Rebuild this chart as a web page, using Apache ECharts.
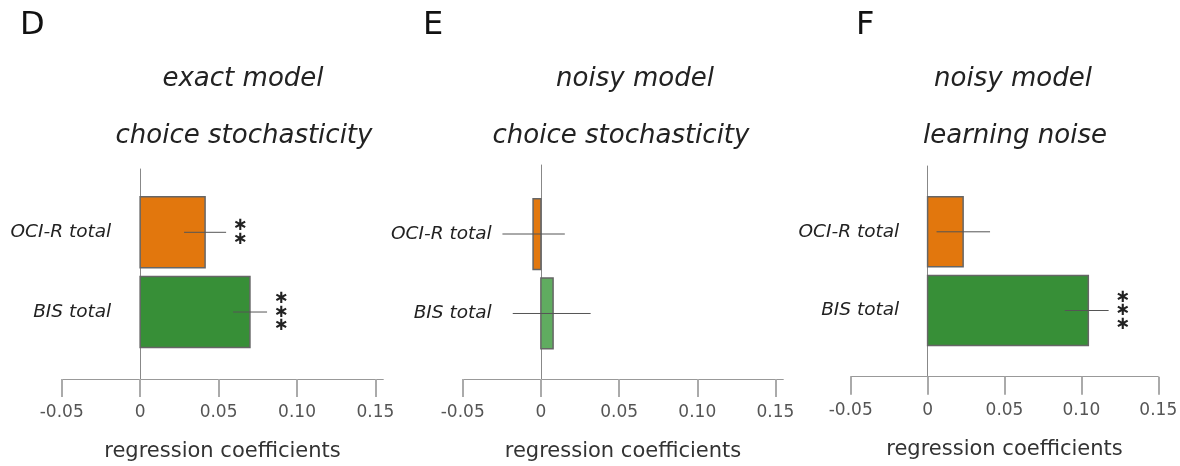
<!DOCTYPE html>
<html>
<head>
<meta charset="utf-8">
<script src="https://cdn.jsdelivr.net/npm/echarts@6/dist/echarts.min.js"></script>
<style>
html,body{margin:0;padding:0;background:#fff;}
#chart{width:1180px;height:466px;}
</style>
</head>
<body>
<div id="chart"></div>
<script>
// ---------------- DATA ----------------
const categories = ['OCI-R total', 'BIS total'];
const panelLetters = ['D', 'E', 'F'];
const titleLine1 = ['exact model', 'noisy model', 'noisy model'];
const titleLine2 = ['choice stochasticity', 'choice stochasticity', 'learning noise'];
const axisName = 'regression coefficients';
const tickValues = [-0.05, 0, 0.05, 0.10, 0.15];
const tickLabels = ['-0.05', '0', '0.05', '0.10', '0.15'];

// panel D: exact model, choice stochasticity
const coefD = [0.0414, 0.0700];
const lowD = [0.0280, 0.0592];
const highD = [0.0548, 0.0809];
const starsD = ['**', '***'];
// panel E: noisy model, choice stochasticity
const coefE = [-0.0050, 0.0078];
const lowE = [-0.0246, -0.0180];
const highE = [0.0153, 0.0318];
const starsE = ['', ''];
// panel F: noisy model, learning noise
const coefF = [0.0231, 0.1045];
const lowF = [0.0058, 0.0892];
const highF = [0.0406, 0.1177];
const starsF = ['', '***'];

// ---------------- LAYOUT / STYLE ----------------
const panels = [
  {coef: coefD, low: lowD, high: highD, stars: starsD,
   grid: {left: 61.7, top: 169, width: 321.6, height: 210}, xMax: 0.155, yMin: -0.794, yMax: 1.84,
   labelMargin: -49.5, colors: ['#E2770D', '#378F37'],
   letterX: 20, t1X: 243, t2X: 244},
  {coef: coefE, low: lowE, high: highE, stars: starsE,
   grid: {left: 462.7, top: 165, width: 320.6, height: 214}, xMax: 0.155, yMin: -0.868, yMax: 1.824,
   labelMargin: -29, colors: ['#E2780F', '#60AC60'],
   letterX: 423, t1X: 635, t2X: 621},
  {coef: coefF, low: lowF, high: highF, stars: starsF,
   grid: {left: 850.7, top: 166, width: 307.6, height: 210.7}, xMax: 0.15, yMin: -0.836, yMax: 1.841,
   labelMargin: -48.5, colors: ['#E2770D', '#378F37'],
   letterX: 856, t1X: 1013, t2X: 1015}
];
const FONT = 'DejaVu Sans';
const barFrac = 0.89;

const option = {
  backgroundColor: '#fff',
  animation: false,
  title: [],
  grid: [],
  xAxis: [],
  yAxis: [],
  series: []
};

panels.forEach((p, i) => {
  option.title.push({
    text: panelLetters[i], left: p.letterX, top: 7.7, padding: 0,
    textStyle: {fontFamily: FONT, fontSize: 32, fontWeight: 'normal', color: '#111', lineHeight: 36}
  });
  option.title.push({
    text: titleLine1[i], left: p.t1X, top: 64, padding: 0, textAlign: 'center',
    textStyle: {fontFamily: FONT, fontSize: 26, fontStyle: 'oblique', fontWeight: 'normal', color: '#222', lineHeight: 30}
  });
  option.title.push({
    text: titleLine2[i], left: p.t2X, top: 121, padding: 0, textAlign: 'center',
    textStyle: {fontFamily: FONT, fontSize: 26, fontStyle: 'oblique', fontWeight: 'normal', color: '#222', lineHeight: 30}
  });

  option.grid.push(Object.assign({containLabel: false, outerBoundsMode: 'none'}, p.grid));

  option.xAxis.push({
    type: 'value', gridIndex: i, min: -0.05, max: p.xMax,
    axisLine: {show: true, onZero: false, lineStyle: {color: '#999', width: 1}},
    axisTick: {show: true, length: 18, customValues: tickValues, lineStyle: {color: '#aaa', width: 2}},
    axisLabel: {
      show: true, customValues: tickValues, margin: 25,
      fontFamily: FONT, fontSize: 17, color: '#555',
      formatter: v => { const k = tickValues.findIndex(t => Math.abs(t - v) < 1e-9); return k >= 0 ? tickLabels[k] : ''; }
    },
    splitLine: {show: false},
    name: axisName, nameLocation: 'middle', nameGap: 62,
    nameTextStyle: {fontFamily: FONT, fontSize: 21, color: '#333'}
  });

  option.yAxis.push({
    type: 'value', gridIndex: i, inverse: true, min: p.yMin, max: p.yMax,
    axisLine: {show: true, onZero: true, lineStyle: {color: '#888', width: 1}},
    axisTick: {show: false},
    splitLine: {show: false},
    axisLabel: {
      show: true, customValues: [0, 1], margin: p.labelMargin,
      fontFamily: FONT, fontSize: 18.5, fontStyle: 'oblique', color: '#222',
      formatter: v => categories[Math.round(v)] || ''
    }
  });

  // bars
  option.series.push({
    type: 'custom', xAxisIndex: i, yAxisIndex: i, clip: false, z: 3,
    data: p.coef.map((v, k) => [v, k]),
    encode: {x: 0, y: 1},
    renderItem: (params, api) => {
      const v = api.value(0), k = api.value(1);
      const a = api.coord([0, k]), b = api.coord([v, k]);
      const h = api.size([0, barFrac])[1];
      return {
        type: 'rect',
        shape: {x: Math.min(a[0], b[0]), y: a[1] - h / 2, width: Math.abs(b[0] - a[0]), height: h},
        style: {fill: p.colors[k], stroke: '#666', lineWidth: 1.5}
      };
    }
  });
  // error bars
  option.series.push({
    type: 'custom', xAxisIndex: i, yAxisIndex: i, clip: false, z: 4,
    data: p.low.map((lo, k) => [lo, p.high[k], k]),
    encode: {x: [0, 1], y: 2},
    renderItem: (params, api) => {
      const a = api.coord([api.value(0), api.value(2)]);
      const b = api.coord([api.value(1), api.value(2)]);
      return {type: 'line', shape: {x1: a[0], y1: a[1], x2: b[0], y2: b[1]}, style: {stroke: '#555', lineWidth: 1}};
    }
  });
  // significance stars
  option.series.push({
    type: 'custom', xAxisIndex: i, yAxisIndex: i, clip: false, z: 4,
    data: p.high.map((hi, k) => [hi, k, p.stars[k].length]),
    encode: {x: 0, y: 1},
    renderItem: (params, api) => {
      const n = api.value(2);
      const c = api.coord([api.value(0), api.value(1)]);
      const children = [];
      const gap = 13.5;
      for (let s = 0; s < n; s++) {
        children.push({
          type: 'text',
          style: {
            text: '\u2217', x: c[0] + 14, y: c[1] + (s - (n - 1) / 2) * gap,
            align: 'center', verticalAlign: 'middle',
            font: 'bold 18px "DejaVu Sans"', fill: '#222'
          }
        });
      }
      return {type: 'group', children};
    }
  });
});

const chart = echarts.init(document.getElementById('chart'), null, {renderer: 'canvas'});
chart.setOption(option);
</script>
</body>
</html>
